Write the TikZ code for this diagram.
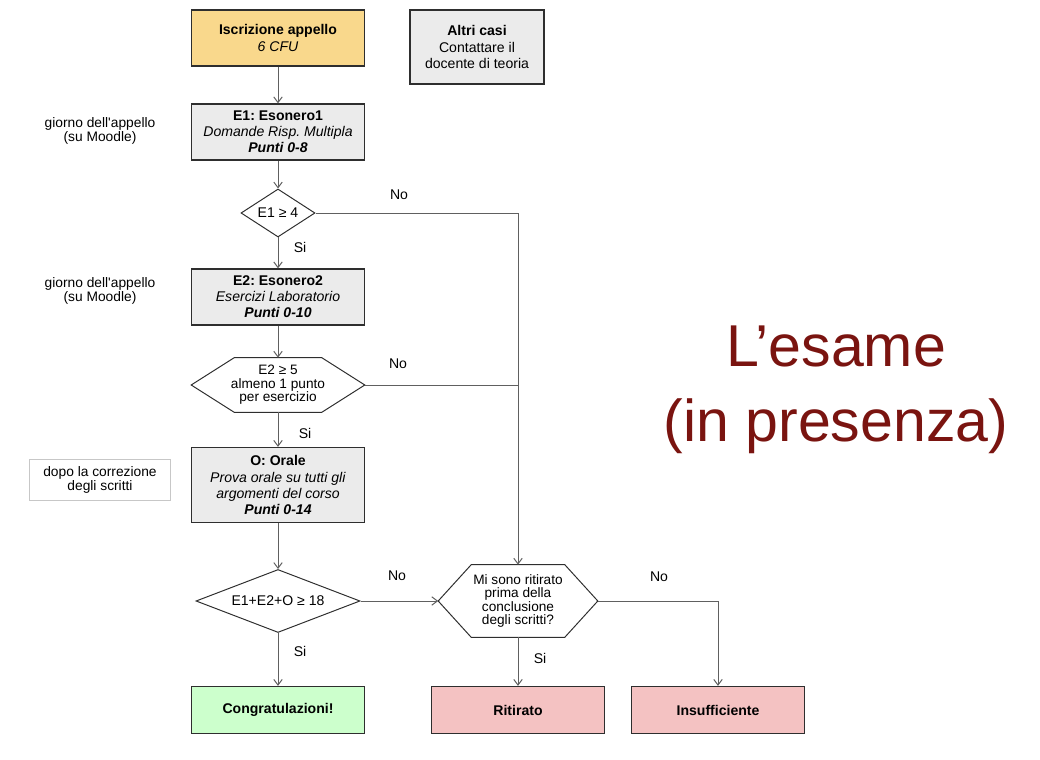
\documentclass[tikz,border=0pt]{standalone}
\usepackage{fontspec}
\setmainfont{Liberation Sans}
\usetikzlibrary{arrows.meta,calc,shapes.geometric,positioning}
\definecolor{giallo}{HTML}{F9D88C}
\definecolor{grigio}{HTML}{EBEBEB}
\definecolor{verde}{HTML}{CCFFCC}
\definecolor{rosa}{HTML}{F4C2C2}
\definecolor{rossoscuro}{HTML}{7A1410}
\definecolor{bordo}{HTML}{2E2E2E}
\definecolor{linea}{HTML}{606060}
\frenchspacing

\begin{document}
\begin{tikzpicture}[x=.025cm,y=-.025cm,
  every node/.style={font=\fontsize{10}{11.4}\selectfont,align=center,inner sep=0pt},
  box/.style={draw=bordo,line width=.9pt,minimum width=4.325cm,minimum height=1.4cm},
  rombo/.style={diamond,draw=bordo,line width=.7pt,aspect=2.2},
  esa/.style={minimum width=#1,font=\fontsize{9.7}{9.5}\selectfont},
  fleccia/.style={draw=linea,line width=.7pt,-{Straight Barb[length=4pt,width=6pt]}},
  nota/.style={font=\fontsize{9.8}{8.6}\selectfont}]
\useasboundingbox (0,0) rectangle (1040,760);

\node (iscr) at (278,38) [box,fill=giallo,font=\fontsize{10}{12}\selectfont] {\textbf{Iscrizione appello}\\\textit{6 CFU}};
\node (altri) at (477,47) [box,fill=grigio,line width=1.4pt,minimum width=3.35cm,minimum height=1.85cm,font=\fontsize{10}{12}\selectfont] {\textbf{Altri casi}\\Contattare il\\docente di teoria};
\node (e1) at (278,132) [box,fill=grigio] {\textbf{E1: Esonero1}\\\textit{Domande Risp. Multipla}\\\textbf{\textit{Punti 0-8}}};
\node (d1) at (278,213) [rombo,minimum width=1.85cm,minimum height=1.2cm] {E1 ≥ 4};
\node (e2) at (278,297) [box,fill=grigio] {\textbf{E2: Esonero2}\\\textit{Esercizi Laboratorio}\\\textbf{\textit{Punti 0-10}}};
\node (d2) at (278,385) [esa=4.325cm,minimum height=1.35cm] {E2 ≥ 5\\almeno 1 punto\\per esercizio};
\node (orale) at (278,485) [box,fill=grigio,minimum height=1.875cm] {\textbf{O: Orale}\\\textit{Prova orale su tutti gli}\\\textit{argomenti del corso}\\\textbf{\textit{Punti 0-14}}};
\node (d3) at (278,601) [rombo,minimum width=4.1cm,minimum height=1.575cm] {E1+E2+O ≥ 18};
\node (d4) at (518,601) [esa=3.975cm,minimum height=1.8cm] {Mi sono ritirato\\prima della\\conclusione\\degli scritti?};
\node (congr) at (278,710) [box,fill=verde,minimum height=1.175cm] {\textbf{Congratulazioni!}};
\node (rit) at (518,710) [box,fill=rosa,minimum height=1.175cm] {\textbf{Ritirato}};
\node (ins) at (718,710) [box,fill=rosa,minimum height=1.175cm] {\textbf{Insufficiente}};

% esagoni
\draw[bordo,line width=.7pt] (d2.west) -- ($(d2.north west)+(43,0)$) -- ($(d2.north east)+(-43,0)$) -- (d2.east)
  -- ($(d2.south east)+(-43,0)$) -- ($(d2.south west)+(43,0)$) -- cycle;
\draw[bordo,line width=.7pt] (d4.west) -- ($(d4.north west)+(33,0)$) -- ($(d4.north east)+(-33,0)$) -- (d4.east)
  -- ($(d4.south east)+(-33,0)$) -- ($(d4.south west)+(33,0)$) -- cycle;

\node (g1) at (100,131) [nota] {giorno dell\textquotesingle appello\\(su Moodle)};
\node (g2) at (100,291) [nota] {giorno dell\textquotesingle appello\\(su Moodle)};
\node (dopo) at (100,480) [draw=black!22,line width=.6pt,minimum width=3.525cm,minimum height=1.025cm,font=\fontsize{9.8}{9.4}\selectfont] {dopo la correzione\\degli scritti};

\node (titolo) at (836,390) [text=rossoscuro,font=\fontsize{42}{53}\selectfont] {L’esame\\(in presenza)};

\node (si1) at (300,247) {Si};
\node (no1) at (399,195) {No};
\node (no2) at (398,364) {No};
\node (si2) at (305,433) {Si};
\node (no3) at (397,576) {No};
\node (si3) at (300,651) {Si};
\node (si4) at (540,658) {Si};
\node (no4) at (659,577) {No};

\draw[fleccia] (iscr)--(e1);
\draw[fleccia] (e1)--(d1);
\draw[fleccia] (d1)--(e2);
\draw[fleccia] (d1.east) -| (d4.north);
\draw[fleccia] (e2)--(d2);
\draw[draw=linea,line width=.7pt] (d2.east)--(d2.east -| d4.north);
\draw[fleccia] (d2)--(orale);
\draw[fleccia] (orale)--(d3);
\draw[fleccia] (d3)--(congr);
\draw[fleccia] (d3.east)--(d4.west);
\draw[fleccia] (d4)--(rit);
\draw[fleccia] (d4.east) -| (ins.north);
\end{tikzpicture}
\end{document}
